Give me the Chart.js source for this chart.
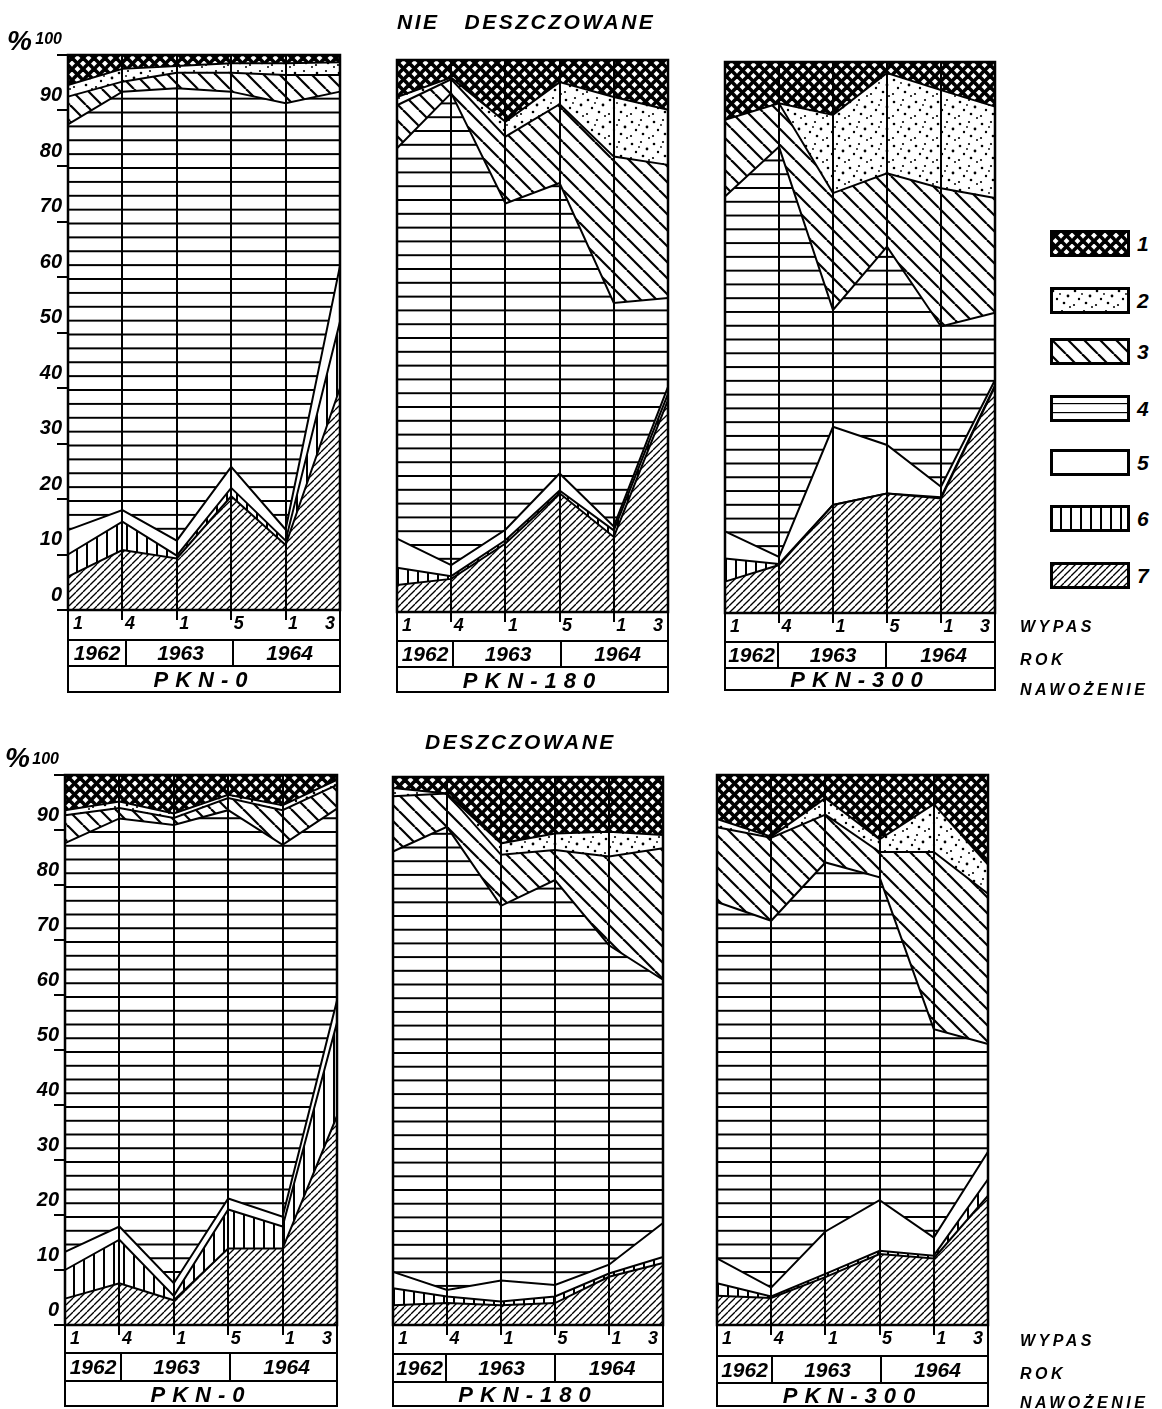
<!DOCTYPE html>
<html><head><meta charset="utf-8">
<script src="https://cdn.jsdelivr.net/npm/chart.js@4/dist/chart.umd.min.js"></script>
<style>
body{margin:0;background:#fff;width:1162px;height:1409px;position:relative;overflow:hidden;font-family:'Liberation Sans',Arial,sans-serif;}
.t{position:absolute;font-weight:bold;font-style:italic;color:#000;white-space:pre;line-height:1;}
canvas{position:absolute;}
.box{position:absolute;box-sizing:border-box;}
.cell{position:absolute;top:0;bottom:0;display:flex;align-items:center;justify-content:center;font-weight:bold;font-style:italic;font-size:21px;color:#000;}
</style>
</head><body>
<script>
// ---------- data ----------
const GRAZING = ['1','4','1','5','1','3'];
const YEARS = ['1962','1963','1964'];
const FERTILIZATION = ['PKN-0','PKN-180','PKN-300'];
const LAYER_LABELS = ['1','2','3','4','5','6','7'];
const Y_TICKS = [0,10,20,30,40,50,60,70,80,90,100];

// NIE DESZCZOWANE, PKN-0
const ND0_L1=[5.4,2.5,2.0,1.5,1.5,1.3];
const ND0_L2=[2.1,2.3,1.2,1.7,2.1,2.3];
const ND0_L3=[5.0,1.8,2.8,3.4,5.1,3.0];
const ND0_L4=[73.1,75.4,81.5,67.6,76.8,31.4];
const ND0_L5=[4.4,2.1,2.7,3.8,2.0,10.0];
const ND0_L6=[4.0,5.1,0.5,1.5,0.8,12.0];
const ND0_L7=[6.0,10.8,9.3,20.5,11.7,40.0];
// NIE DESZCZOWANE, PKN-180
const ND180_L1=[6.7,3.2,11.2,4.0,6.7,9.0];
const ND180_L2=[1.5,0.3,2.7,4.0,10.8,10.0];
const ND180_L3=[7.8,2.5,12.1,14.3,26.5,24.1];
const ND180_L4=[70.7,85.5,59.1,52.6,40.5,16.1];
const ND180_L5=[5.3,2.0,1.9,3.1,0.7,1.3];
const ND180_L6=[3.1,0.5,0.6,0.5,1.2,1.1];
const ND180_L7=[4.9,6.0,12.4,21.5,13.6,38.4];
// NIE DESZCZOWANE, PKN-300
const ND300_L1=[10.5,7.5,9.6,2.0,5.1,8.1];
const ND300_L2=[0,0,14.2,18.2,17.8,16.6];
const ND300_L3=[13.9,7.9,21.2,13.3,25.1,20.8];
const ND300_L4=[60.8,74.4,21.2,36.0,29.1,12.2];
const ND300_L5=[4.9,1.3,14.2,8.8,1.9,1.0];
const ND300_L6=[4.2,0.2,0,0,0.2,0.2];
const ND300_L7=[5.7,8.7,19.6,21.7,20.8,41.1];
// DESZCZOWANE, PKN-0
const D0_L1=[6.4,4.8,7.0,3.6,5.5,0.9];
const D0_L2=[0.9,1.2,0.8,0.6,0.9,0.9];
const D0_L3=[5.1,1.9,1.3,2.2,6.3,4.3];
const D0_L4=[74.3,74.2,83.3,70.6,67.6,34.9];
const D0_L5=[3.3,2.4,2.3,2.0,1.8,4.0];
const D0_L6=[5.2,7.9,0.8,7.1,4.0,17.0];
const D0_L7=[4.8,7.6,4.5,13.9,13.9,38.0];
// DESZCZOWANE, PKN-180
const D180_L1=[2.0,3.0,12.1,10.3,10.0,10.6];
const D180_L2=[1.5,0,2.1,3.0,4.5,2.4];
const D180_L3=[10.1,6.1,9.3,5.5,16.2,24.0];
const D180_L4=[76.7,84.5,68.4,73.9,58.3,44.4];
const D180_L5=[3.0,1.2,3.8,2.1,1.6,6.2];
const D180_L6=[3.1,1.2,0.7,1.2,0.6,1.1];
const D180_L7=[3.6,4.0,3.6,4.0,8.8,11.3];
// DESZCZOWANE, PKN-300
const D300_L1=[8.0,11.2,4.2,11.7,5.3,16.3];
const D300_L2=[1.5,0.2,3.0,2.3,8.7,5.3];
const D300_L3=[13.6,15.1,8.7,4.6,32.2,27.3];
const D300_L4=[64.8,66.7,67.1,58.7,37.9,19.6];
const D300_L5=[4.5,1.6,7.7,9.2,3.3,5.0];
const D300_L6=[2.3,0.3,0.6,0.6,0.5,3.0];
const D300_L7=[5.3,4.9,8.7,12.9,12.1,23.5];

const PANELS = [
  {layers:[ND0_L1,ND0_L2,ND0_L3,ND0_L4,ND0_L5,ND0_L6,ND0_L7], fert:0},
  {layers:[ND180_L1,ND180_L2,ND180_L3,ND180_L4,ND180_L5,ND180_L6,ND180_L7], fert:1},
  {layers:[ND300_L1,ND300_L2,ND300_L3,ND300_L4,ND300_L5,ND300_L6,ND300_L7], fert:2},
  {layers:[D0_L1,D0_L2,D0_L3,D0_L4,D0_L5,D0_L6,D0_L7], fert:0},
  {layers:[D180_L1,D180_L2,D180_L3,D180_L4,D180_L5,D180_L6,D180_L7], fert:1},
  {layers:[D300_L1,D300_L2,D300_L3,D300_L4,D300_L5,D300_L6,D300_L7], fert:2},
];

// ---------- layout (positions only) ----------
const GEOM = [
  {l:68,r:340,t:55,b:610, yT:639,yB:665,pB:693,d1:123,d2:230,axis:true},
  {l:397,r:668,t:60,b:612, yT:640,yB:666,pB:693,d1:450,d2:558,axis:false},
  {l:725,r:995,t:62,b:613, yT:641,yB:667,pB:691,d1:775,d2:883,axis:false},
  {l:65,r:337,t:775,b:1325, yT:1352,yB:1380,pB:1407,d1:118,d2:227,axis:true},
  {l:393,r:663,t:777,b:1325, yT:1353,yB:1381,pB:1407,d1:443,d2:552,axis:false},
  {l:717,r:988,t:775,b:1325, yT:1355,yB:1382,pB:1407,d1:769,d2:878,axis:false},
];
const FONT = 'Liberation Sans';
const TICK_FONT = {family:FONT,size:20,style:'italic',weight:'bold'};
const TICK_FONT_TOP = {family:FONT,size:16,style:'italic',weight:'bold'};
const X_FONT = {family:FONT,size:18,style:'italic',weight:'bold'};

function line(g,x1,y1,x2,y2){g.beginPath();g.moveTo(x1,y1);g.lineTo(x2,y2);g.stroke();}
function tile(w,h,draw){const c=document.createElement('canvas');c.width=w;c.height=h;const g=c.getContext('2d');g.fillStyle='#fff';g.fillRect(0,0,w,h);g.strokeStyle='#000';g.fillStyle='#000';draw(g,w,h);return c;}
const TILES = {
  1: tile(11,11,(g,w,h)=>{g.lineWidth=3.6;for(const o of [-w,0,w]){line(g,o,0,o+w,h);line(g,o+w,0,o,h);}}),
  2: tile(22,22,(g)=>{const pts=[[3,4,1.3],[12,2,1.1],[18,9,1.4],[7,12,1.2],[14,16,1.3],[2,18,1.1],[10,7,0.9],[20,20,1.0]];for(const [x,y,r] of pts){g.beginPath();g.arc(x,y,r,0,7);g.fill();}}),
  3: tile(16,16,(g,w,h)=>{g.lineWidth=2.2;for(const o of [-w,0,w])line(g,o,0,o+w,h);}),
  4: tile(4,14,(g)=>{g.fillRect(0,0,4,2);}),
  5: tile(4,4,()=>{}),
  6: tile(10,4,(g)=>{g.fillRect(0,0,2,4);}),
  7: tile(7,7,(g,w,h)=>{g.lineWidth=1.3;for(const o of [-w,0,w])line(g,o,h,o+w,0);}),
};

function addText(txt,x,y,size,extra){const d=document.createElement('div');d.className='t';d.textContent=txt;d.style.left=x+'px';d.style.top=y+'px';d.style.fontSize=size+'px';if(extra)Object.assign(d.style,extra);document.body.appendChild(d);return d;}

const L_AXIS=62, L_NONE=10, PAD_T=30, PAD_R=6, X_H=30;
const LAST = GRAZING.length-1;
// label strings padded so each number sits just right of its grid line (first/last aligned inside)
function grazingLabel(i){ if(i===0) return ' '+GRAZING[i]; if(i===LAST) return GRAZING[i]+' '; return '   '+GRAZING[i]; }

PANELS.forEach((p,idx)=>{
  const g=GEOM[idx];
  const W=g.r-g.l, H=g.b-g.t;
  const L=g.axis?L_AXIS:L_NONE;
  const cv=document.createElement('canvas');
  cv.width=L+W+PAD_R; cv.height=PAD_T+H+X_H;
  cv.style.left=(g.l-L)+'px'; cv.style.top=(g.t-PAD_T)+'px';
  document.body.appendChild(cv);
  const ctx=cv.getContext('2d');
  const pats={};
  for(const k of [1,2,3,4,6,7]) pats[k]=ctx.createPattern(TILES[k],'repeat');
  pats[5]='#ffffff';
  const order=[7,6,5,4,3,2,1];
  const datasets=order.map((k,i)=>({
    label:LAYER_LABELS[k-1], data:p.layers[k-1],
    fill:i===0?'origin':'-1', backgroundColor:pats[k],
    borderColor:'#000', borderWidth:2, pointRadius:0, tension:0
  }));
  const hpat=pats[4];
  const alignPlugin={id:'alignH',beforeDatasetsDraw(c){const a=c.chartArea;const sp=(a.bottom-a.top)/40;hpat.setTransform(new DOMMatrix([1,0,0,sp/14,0,a.top+1]));}};
  const framePlugin={id:'frame',afterDraw(c){const a=c.chartArea;const x=c.ctx;x.save();x.strokeStyle='#000';x.lineWidth=2.5;x.strokeRect(a.left,a.top,a.right-a.left,a.bottom-a.top);x.restore();}};
  new Chart(ctx,{
    type:'line',
    data:{labels:GRAZING,datasets},
    options:{
      responsive:false,animation:false,devicePixelRatio:1,
      layout:{padding:{left:0,right:PAD_R,top:PAD_T,bottom:0}},
      plugins:{legend:{display:false},tooltip:{enabled:false}},
      scales:{
        x:{z:1,offset:false,
          grid:{z:1,color:'#000',lineWidth:2,drawTicks:true,tickLength:10,tickColor:'#000',tickWidth:2},
          border:{z:1,color:'#000',width:2},
          ticks:{z:1,align:'inner',padding:-7,labelOffset:0,color:'#000',autoSkip:false,maxRotation:0,font:X_FONT,
                 callback:(v,i)=>grazingLabel(i)},
          afterFit:s=>{s.height=X_H;}},
        y:{stacked:true,min:0,max:100,
          afterBuildTicks:s=>{s.ticks=Y_TICKS.map(v=>({value:v}));},
          grid:{display:g.axis,drawOnChartArea:false,drawTicks:true,tickLength:11,color:'#000',lineWidth:2},
          border:{color:'#000',width:2},
          ticks:{display:g.axis,labelOffset:-15,padding:-5,color:'#000',
                 font:(c)=>c.tick&&c.tick.value===100?TICK_FONT_TOP:TICK_FONT},
          afterFit:s=>{s.width=L;}}
      }
    },
    plugins:[alignPlugin,framePlugin]
  });
  // table under the panel: year row and fertilization row
  const tb=document.createElement('div');tb.className='box';
  Object.assign(tb.style,{left:(g.l-1)+'px',top:g.b+'px',width:(W+2)+'px',height:(g.pB-g.b)+'px',borderLeft:'2px solid #000',borderRight:'2px solid #000',borderBottom:'2px solid #000'});
  document.body.appendChild(tb);
  const yr=document.createElement('div');yr.className='box';
  Object.assign(yr.style,{left:(g.l-1)+'px',top:g.yT+'px',width:(W+2)+'px',height:(g.yB-g.yT+2)+'px',border:'2px solid #000'});
  document.body.appendChild(yr);
  const edges=[g.l-1,g.d1,g.d2,g.r+1];
  YEARS.forEach((y,i)=>{const c=document.createElement('div');c.className='cell';c.textContent=y;
    c.style.left=(edges[i]-(g.l-1))+'px';c.style.width=(edges[i+1]-edges[i])+'px';
    if(i>0)c.style.borderLeft='2px solid #000';yr.appendChild(c);});
  const pk=document.createElement('div');pk.className='cell';pk.textContent=FERTILIZATION[p.fert];
  Object.assign(pk.style,{position:'absolute',left:(g.l)+'px',top:(g.yB+2)+'px',width:W+'px',height:(g.pB-g.yB-2)+'px',letterSpacing:'7px',fontSize:'22px'});
  document.body.appendChild(pk);
});

// titles and side labels
addText('NIE   DESZCZOWANE',397,11,21,{letterSpacing:'2.5px'});
addText('DESZCZOWANE',425,731,21,{letterSpacing:'2.5px'});
addText('%',7,27,28);
addText('%',5,744,28);
const sideRows=[[619,652,682],[1333,1366,1395]];
sideRows.forEach(r=>{
  addText('WYPAS',1020,r[0],16,{letterSpacing:'3.5px'});
  addText('ROK',1020,r[1],16,{letterSpacing:'3.5px'});
  addText('NAWOŻENIE',1020,r[2],16,{letterSpacing:'3.5px'});
});

// legend
const LEG_TOPS=[230,287,338,395,449,505,562];
LAYER_LABELS.forEach((lab,i)=>{
  const k=i+1;
  const c=document.createElement('canvas');c.width=80;c.height=27;
  c.style.left='1050px';c.style.top=LEG_TOPS[i]+'px';
  document.body.appendChild(c);
  const g=c.getContext('2d');
  if(k===5){g.fillStyle='#fff';}
  else{const pt=g.createPattern(TILES[k],'repeat');if(k===4)pt.setTransform(new DOMMatrix([1,0,0,9/14,0,8]));g.fillStyle=pt;}
  g.fillRect(0,0,80,27);
  g.strokeStyle='#000';g.lineWidth=3;g.strokeRect(1.5,1.5,77,24);
  addText(lab,1137,LEG_TOPS[i]+3,21);
});
</script>
</body></html>
